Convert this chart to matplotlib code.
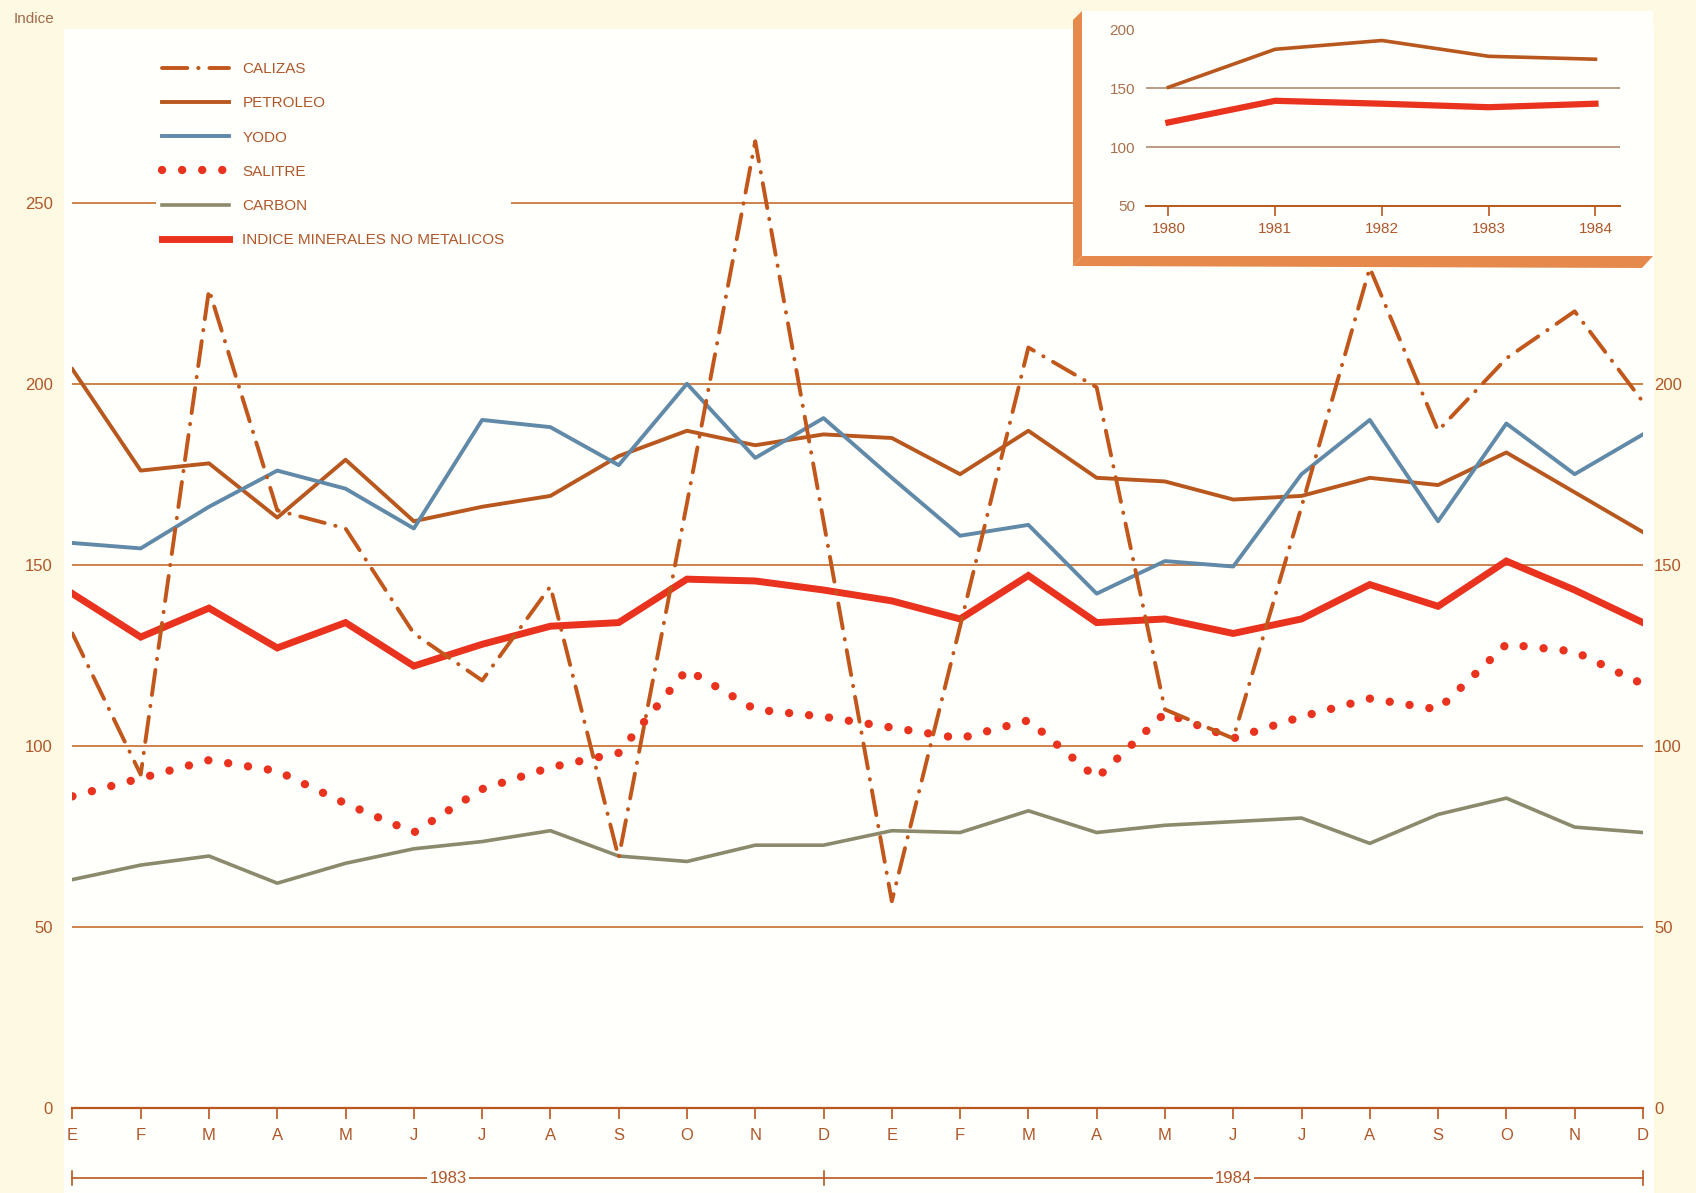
import numpy as np
import matplotlib.pyplot as plt
from matplotlib.patches import Rectangle, Polygon

plt.rcParams['font.family'] = ['Liberation Sans', 'DejaVu Sans']

# -----------------------------
# DATA
# -----------------------------
meses = ["E", "F", "M", "A", "M", "J", "J", "A", "S", "O", "N", "D"] * 2

calizas = [131, 92, 226, 165, 160, 131, 118, 144, 69, 167, 267, 162,
           57, 133, 210, 199, 110, 102, 166, 232, 187, 207, 220, 195]
petroleo = [204, 176, 178, 163, 179, 162, 166, 169, 180, 187, 183, 186,
            185, 175, 187, 174, 173, 168, 169, 174, 172, 181, 170, 159]
yodo = [156, 154.5, 166, 176, 171, 160, 190, 188, 177.5, 200, 179.5, 190.5,
        174, 158, 161, 142, 151, 149.5, 175, 190, 162, 189, 175, 186]
salitre = [86, 91, 96, 93, 84, 76, 88, 94, 98, 121, 110, 108,
           105, 102, 107, 91, 109, 102, 108, 113, 110, 128, 126, 117]
carbon = [63, 67, 69.5, 62, 67.5, 71.5, 73.5, 76.5, 69.5, 68, 72.5, 72.5,
          76.5, 76, 82, 76, 78, 79, 80, 73, 81, 85.5, 77.5, 76]
indice = [142, 130, 138, 127, 134, 122, 128, 133, 134, 146, 145.5, 143,
          140, 135, 147, 134, 135, 131, 135, 144.5, 138.5, 151, 143, 134]

anios = [1980, 1981, 1982, 1983, 1984]
petroleo_anual = [151, 183.5, 191, 177.5, 175]
indice_anual = [121, 139.5, 137, 134, 137]

# -----------------------------
# COLORS
# -----------------------------
cream = "#fdf9e2"
paper = "#fffffb"
brown = "#b8581f"
caliza_c = "#c2571c"
grid_c = "#c9783e"
text_c = "#b0572a"
red = "#e9331f"
blue = "#6189a8"
grey = "#8c8a6c"
orange = "#e58a4c"

fig = plt.figure(figsize=(16.96, 11.93), dpi=100, facecolor=cream)
fig.patches.append(Rectangle((0.038, 0.0), 0.937, 0.976, transform=fig.transFigure,
                             facecolor=paper, edgecolor="none", zorder=-1))

ax = fig.add_axes([0.0427, 0.0716, 0.926, 0.8798])
ax.set_facecolor("none")
x = np.arange(len(meses))

for v in [50, 100, 150, 200, 250]:
    ax.axhline(v, color=grid_c, lw=1.3, zorder=1)

ax.plot(x, carbon, color=grey, lw=2.6, label="CARBON", zorder=3)
ax.plot(x, petroleo, color=brown, lw=2.8, label="PETROLEO", zorder=3)
ax.plot(x, yodo, color=blue, lw=2.8, label="YODO", zorder=3)
ax.plot(x, indice, color=red, lw=5, label="INDICE MINERALES NO METALICOS",
        solid_joinstyle="miter", zorder=4)
ax.plot(x, salitre, color=red, lw=6, linestyle=(0, (0.01, 2.4)),
        dash_capstyle="round", label="SALITRE", zorder=4)
ax.plot(x, calizas, color=caliza_c, lw=2.8, linestyle=(0, (6.5, 2.8, 0.1, 2.8)),
        dash_capstyle="round", label="CALIZAS", zorder=5)

ax.set_xlim(0, 23)
ax.set_ylim(0, 290)
for s in ["top", "right", "left"]:
    ax.spines[s].set_visible(False)
ax.spines["bottom"].set_color(brown)
ax.spines["bottom"].set_linewidth(1.6)

ax.set_xticks(x)
ax.set_xticklabels(meses)
ax.set_yticks([0, 50, 100, 150, 200, 250])
ax.tick_params(axis="x", direction="out", length=8, width=1.2, color=brown,
               labelcolor=text_c, labelsize=12, pad=7)
ax.tick_params(axis="y", length=0, labelcolor=text_c, labelsize=12, pad=14)

ax2 = ax.twinx()
ax2.set_ylim(ax.get_ylim())
ax2.set_yticks([0, 50, 100, 150, 200])
ax2.tick_params(axis="y", length=0, labelcolor=text_c, labelsize=12, pad=8)
for s in ax2.spines.values():
    s.set_visible(False)

# year brackets
yb = -19.5
for a, b, lab in [(0, 11, "1983"), (11, 23, "1984")]:
    ax.plot([a, b], [yb, yb], color=brown, lw=1.2, clip_on=False)
    ax.text((a + b) / 2, yb, lab, ha="center", va="center", fontsize=12, color=text_c,
            bbox=dict(facecolor=paper, edgecolor="none", pad=1.5), clip_on=False)
for xv in [0, 11, 23]:
    ax.plot([xv, xv], [yb - 2, yb + 2], color=brown, lw=1.2, clip_on=False)

fig.text(0.008, 0.984, "Indice", fontsize=11, color="#a06a4a", ha="left", va="center")

# legend
handles, labels = ax.get_legend_handles_labels()
order = ["CALIZAS", "PETROLEO", "YODO", "SALITRE", "CARBON",
         "INDICE MINERALES NO METALICOS"]
hmap = dict(zip(labels, handles))
leg = ax.legend([hmap[k] for k in order], order, loc="upper left",
                bbox_to_anchor=(0.092, 0.953), bbox_transform=fig.transFigure,
                frameon=True, facecolor=paper, edgecolor="none", framealpha=1,
                fontsize=11, handlelength=4.4, handletextpad=0.85,
                labelspacing=1.32, borderpad=0.4, borderaxespad=0)
for t in leg.get_texts():
    t.set_color(text_c)
leg.set_zorder(6)

# -----------------------------
# INSET
# -----------------------------
fw, fh = 1696, 1193
fig.patches.append(Rectangle((1082 / fw, 1 - 256 / fh), (1653 - 1082) / fw, (256 - 11) / fh,
                             transform=fig.transFigure, facecolor=paper,
                             edgecolor="none", zorder=1))
fig.patches.append(Polygon([(1073 / fw, 1 - 20 / fh), (1082 / fw, 1 - 11 / fh),
                            (1082 / fw, 1 - 256 / fh), (1073 / fw, 1 - 266 / fh)],
                           closed=True, transform=fig.transFigure, facecolor=orange,
                           edgecolor="none", zorder=1))
fig.patches.append(Polygon([(1073 / fw, 1 - 266 / fh), (1082 / fw, 1 - 256 / fh),
                            (1653 / fw, 1 - 256 / fh), (1642 / fw, 1 - 268 / fh)],
                           closed=True, transform=fig.transFigure, facecolor=orange,
                           edgecolor="none", zorder=1))

axi = fig.add_axes([0.6757, 0.8277, 0.2795, 0.157])
axi.set_zorder(2)
axi.set_facecolor("none")
axi.axhline(150, color="#b08a70", lw=1.2)
axi.axhline(100, color="#b08a70", lw=1.2)
axi.plot(anios, petroleo_anual, color=brown, lw=2.6)
axi.plot(anios, indice_anual, color=red, lw=4.5)
axi.set_xlim(1979.79, 1984.23)
axi.set_ylim(50, 210)
axi.set_xticks(anios)
axi.set_yticks([50, 100, 150, 200])
for s in ["top", "right", "left"]:
    axi.spines[s].set_visible(False)
axi.spines["bottom"].set_color(brown)
axi.spines["bottom"].set_linewidth(1.4)
axi.tick_params(axis="x", direction="out", length=7, width=1.2, color=brown,
                labelcolor=text_c, labelsize=11, pad=5)
axi.tick_params(axis="y", length=0, labelcolor="#a8704e", labelsize=11, pad=8)

plt.savefig("out.png", dpi=100, facecolor=cream)
